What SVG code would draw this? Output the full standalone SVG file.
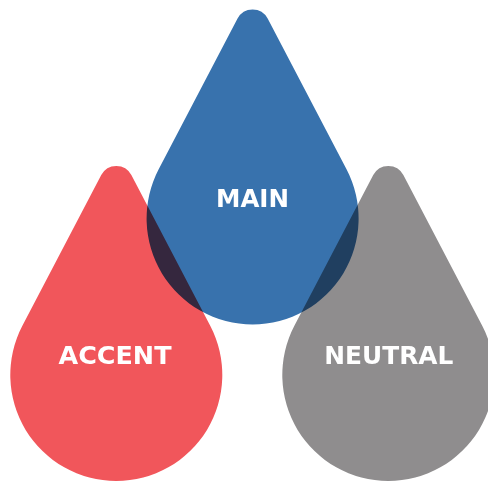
<svg xmlns="http://www.w3.org/2000/svg" width="488" height="481" viewBox="0 0 488 481">
<style>
  .drop { mix-blend-mode: multiply; }
  .lbl { font-family: "DejaVu Sans", "Liberation Sans", Arial, sans-serif; font-weight: bold; font-size: 25px; fill: #ffffff; text-anchor: middle; }
</style>
<defs>
  <path id="dropShape" d="M -15.06 9.12 A 17 17 0 0 1 15.06 9.12 L 93.93 159.87 A 106 106 0 1 1 -93.93 159.87 Z"/>
</defs>
<rect width="488" height="481" fill="#ffffff"/>
<g id="accent" class="drop">
  <use href="#dropShape" transform="translate(116.3 166)" fill="#f1565b"/>
  <text class="lbl" x="115" y="364.3" textLength="113" lengthAdjust="spacingAndGlyphs">ACCENT</text>
</g>
<g id="neutral" class="drop">
  <use href="#dropShape" transform="translate(388.3 166)" fill="#8f8d8e"/>
  <text class="lbl" x="388.8" y="364.3" textLength="129" lengthAdjust="spacingAndGlyphs">NEUTRAL</text>
</g>
<g id="main" class="drop">
  <use href="#dropShape" transform="translate(252.6 9.5)" fill="#3872ad"/>
  <text class="lbl" x="252.5" y="206.7" textLength="73" lengthAdjust="spacingAndGlyphs">MAIN</text>
</g>
<g id="connectors"></g>
</svg>
